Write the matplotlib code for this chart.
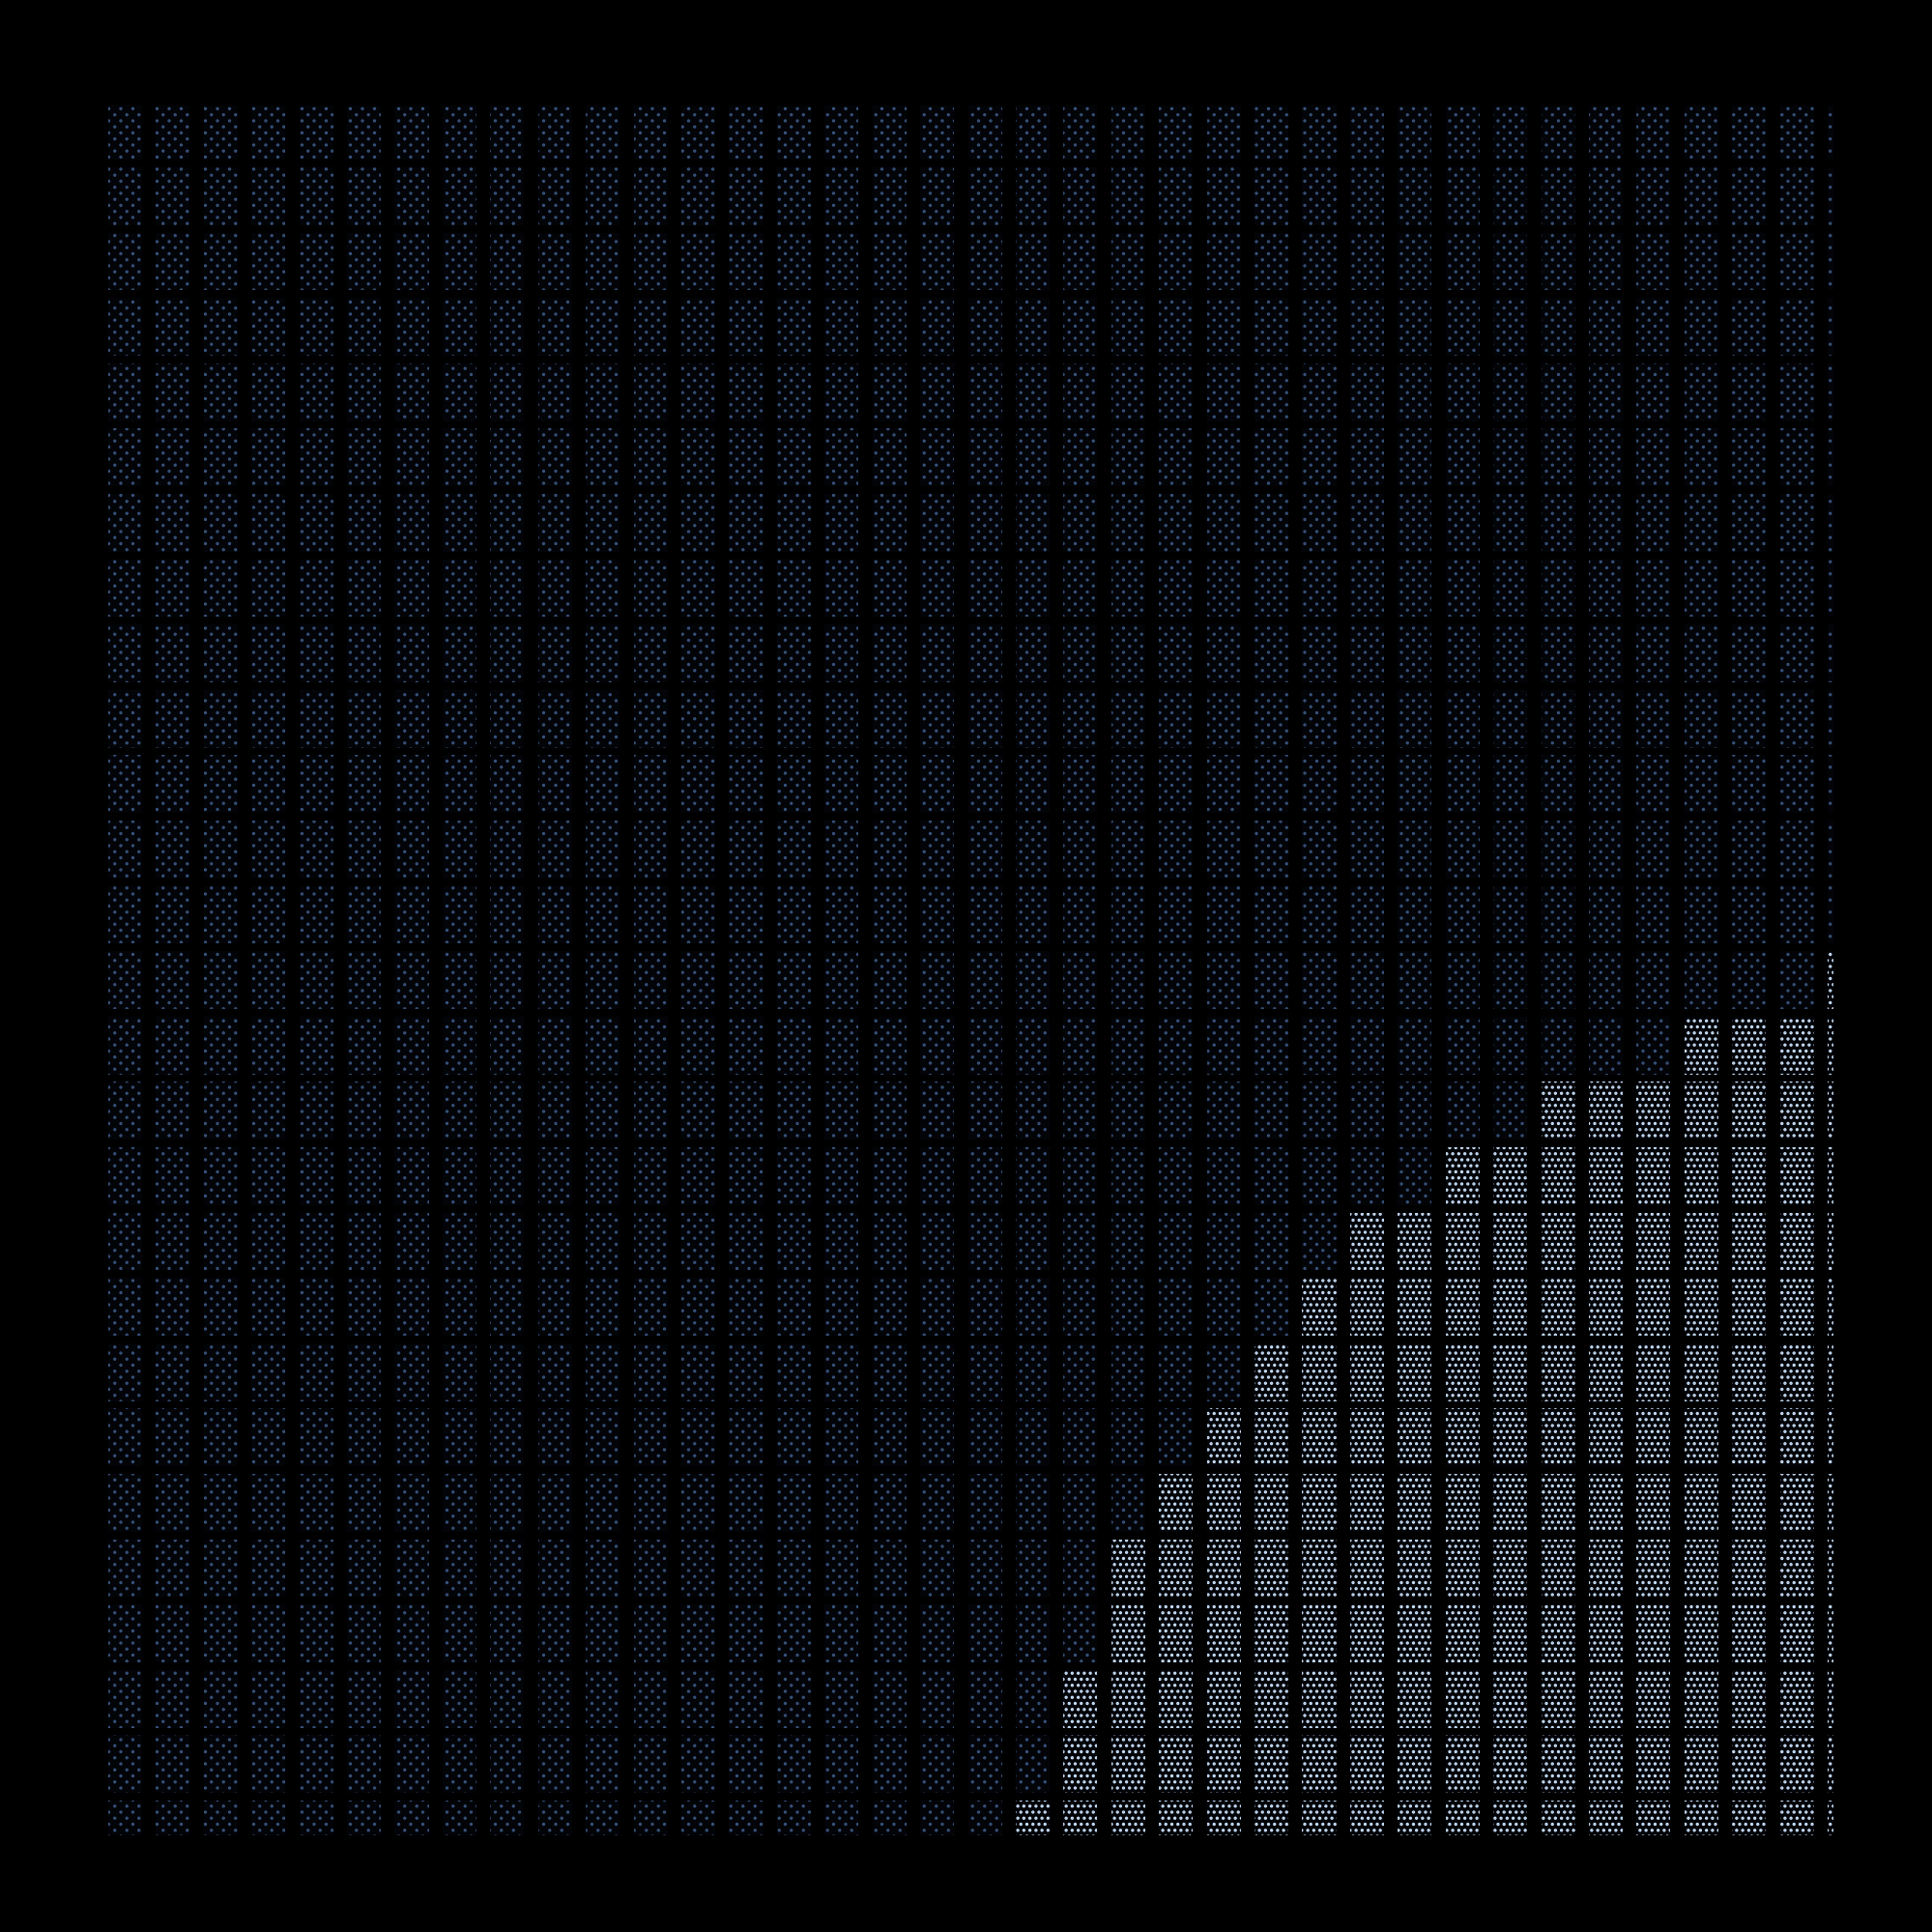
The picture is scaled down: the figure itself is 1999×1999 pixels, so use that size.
import numpy as np
import matplotlib
matplotlib.use('Agg')
import matplotlib.pyplot as plt
import matplotlib.hatch as mhatch

# how many light cells each column has, left to right
light_rows = [0, 0, 0, 0, 0, 0, 0, 0, 0, 0, 0, 0, 0, 0, 0, 0, 0, 0, 0,
              1, 3, 5, 6, 7, 8, 9, 10, 10, 11, 11, 12, 12, 12, 13, 13, 13, 14]
total_rows = 27

light_color = '#c9dff8'
dark_color = '#38537c'
cell_color = '#030408'


# same dots as '....' but with every second dot of a row left out
class WideDots(mhatch.Circles):
    size = 0.1
    filled = True

    def __init__(self, hatch, density):
        self.num_rows = hatch.count('*') * density
        super().__init__(hatch, density)
        if self.num_rows:
            n = self.num_rows // 2
            self.num_shapes = (self.num_rows // 2 + 1) * (n + 1) + (self.num_rows // 2) * n
            self.num_vertices = self.num_shapes * len(self.shape_vertices)

    def set_vertices_and_codes(self, vertices, codes):
        if not self.num_rows:
            return
        step = 1.0 / self.num_rows
        n = self.num_rows // 2
        shape = self.shape_vertices * step * self.size
        size = len(shape)
        cursor = 0
        for row in range(self.num_rows + 1):
            if row % 2 == 0:
                cols = np.linspace(0, 1, n + 1)
            else:
                cols = np.linspace(step, 1 - step, n)
            for col in cols:
                vertices[cursor:cursor + size] = shape + (col, row * step)
                codes[cursor:cursor + size] = self.shape_codes
                cursor += size


mhatch._hatch_types = [h for h in mhatch._hatch_types if h is not mhatch.Stars] + [WideDots]

fig = plt.figure(figsize=(13.3333, 13.3333), dpi=150, facecolor='black')
ax = fig.add_axes([0.055, 0.05, 0.8935, 0.895])
ax.set_facecolor('black')

for col, n_light in enumerate(light_rows):
    for row in range(total_rows):
        if row < n_light:
            ax.bar(col, 0.885, bottom=row - 0.352, width=0.71, facecolor=cell_color,
                   edgecolor=light_color, linewidth=0, hatch='....')
        else:
            ax.bar(col, 0.885, bottom=row - 0.352, width=0.71, facecolor=cell_color,
                   edgecolor=dark_color, linewidth=0, hatch='****')

ax.set_xlim(-0.395, 35.765)
ax.set_ylim(0, 26.48)
ax.axis('off')
fig.savefig('out.png', dpi=150, facecolor='black')
